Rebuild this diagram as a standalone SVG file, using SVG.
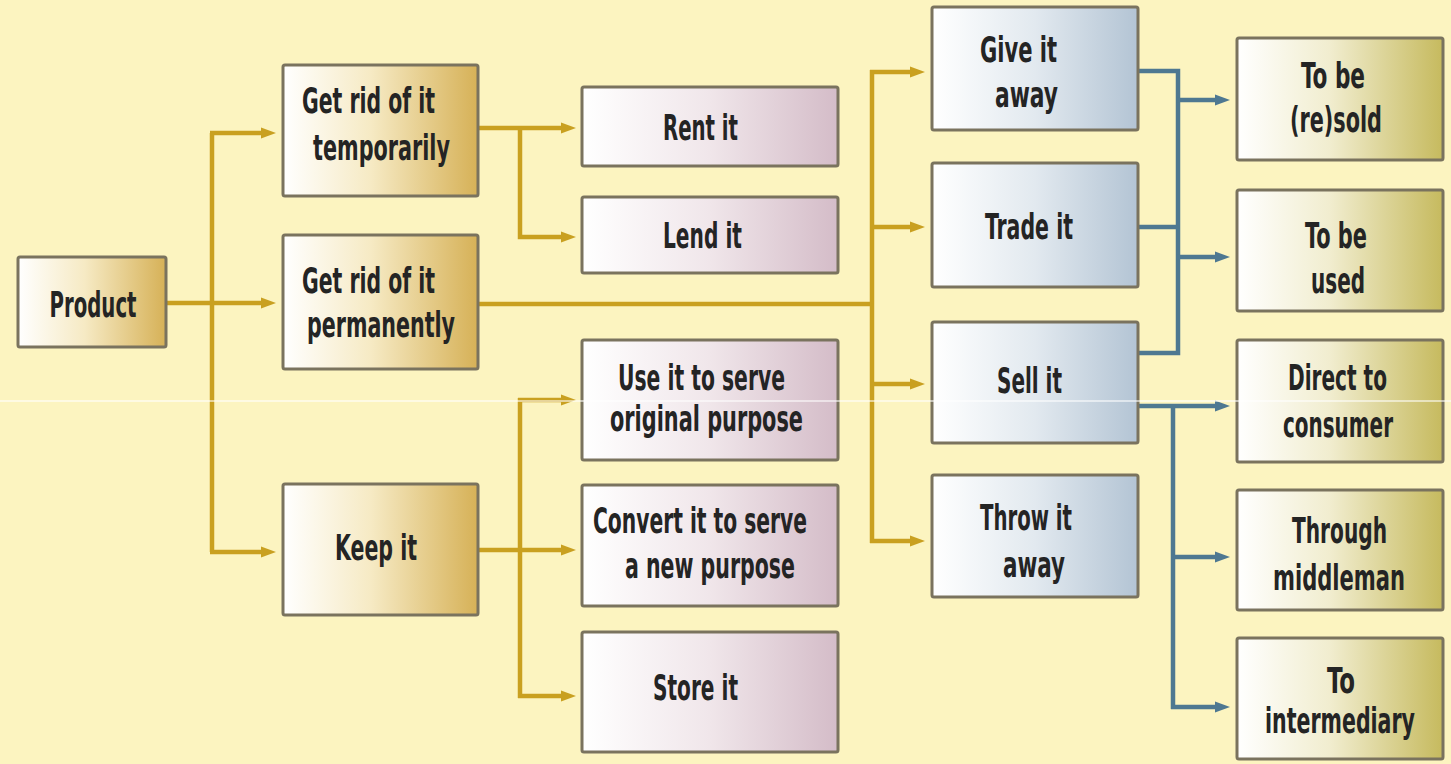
<svg xmlns="http://www.w3.org/2000/svg" width="1451" height="764" viewBox="0 0 1451 764">
<defs>
<linearGradient id="gGold" x1="0" y1="0" x2="1" y2="0">
<stop offset="0" stop-color="#FFFFFF"/><stop offset="0.45" stop-color="#F6EAC4"/><stop offset="1" stop-color="#D6B157"/>
</linearGradient>
<linearGradient id="gPink" x1="0" y1="0" x2="1" y2="0">
<stop offset="0" stop-color="#FFFFFF"/><stop offset="0.5" stop-color="#F0E6EA"/><stop offset="1" stop-color="#D4BCC8"/>
</linearGradient>
<linearGradient id="gBlue" x1="0" y1="0" x2="1" y2="0">
<stop offset="0" stop-color="#FFFFFF"/><stop offset="0.5" stop-color="#E2E9EF"/><stop offset="1" stop-color="#B3C4D4"/>
</linearGradient>
<linearGradient id="gOlive" x1="0" y1="0" x2="1" y2="0">
<stop offset="0" stop-color="#FFFFFF"/><stop offset="0.45" stop-color="#F1EDCF"/><stop offset="1" stop-color="#C6BA5E"/>
</linearGradient>
<marker id="aY" markerUnits="userSpaceOnUse" markerWidth="16" markerHeight="12" refX="7" refY="6" orient="auto">
<path d="M0,0.5 L15,6 L0,11.5 z" fill="#C9A020"/>
</marker>
<marker id="aB" markerUnits="userSpaceOnUse" markerWidth="16" markerHeight="12" refX="7" refY="6" orient="auto">
<path d="M0,0.5 L15,6 L0,11.5 z" fill="#4E7891"/>
</marker>
<style>
.box{stroke:#7A735E;stroke-width:3}
.l2{fill:url(#gGold)}
.l3{fill:url(#gPink)}
.l4{fill:url(#gBlue)}
.l5{fill:url(#gOlive)}
text{font-family:"Liberation Sans Narrow","DejaVu Sans Condensed","Liberation Sans",sans-serif;font-weight:bold;font-size:36px;fill:#242424;text-anchor:middle}
.cy{fill:none;stroke:#C9A020;stroke-width:4.5}
.cb{fill:none;stroke:#4E7891;stroke-width:4.5}
</style>
</defs>
<rect x="0" y="0" width="1451" height="764" fill="#FCF4C0"/>

<g id="connectors">
<line class="cy" x1="212" y1="133" x2="212" y2="552"/>
<line class="cy" x1="166" y1="303" x2="268" y2="303" marker-end="url(#aY)"/>
<line class="cy" x1="210" y1="133" x2="268" y2="133" marker-end="url(#aY)"/>
<line class="cy" x1="210" y1="552" x2="268" y2="552" marker-end="url(#aY)"/>
<line class="cy" x1="478" y1="128" x2="568" y2="128" marker-end="url(#aY)"/>
<polyline class="cy" points="520,126 520,237 568,237" marker-end="url(#aY)"/>
<line class="cy" x1="478" y1="304" x2="874" y2="304"/>
<line class="cy" x1="872" y1="70" x2="872" y2="543"/>
<line class="cy" x1="870" y1="72" x2="917" y2="72" marker-end="url(#aY)"/>
<line class="cy" x1="870" y1="227" x2="917" y2="227" marker-end="url(#aY)"/>
<line class="cy" x1="870" y1="384" x2="917" y2="384" marker-end="url(#aY)"/>
<line class="cy" x1="870" y1="541" x2="917" y2="541" marker-end="url(#aY)"/>
<line class="cy" x1="478" y1="550" x2="568" y2="550" marker-end="url(#aY)"/>
<line class="cy" x1="520" y1="398" x2="520" y2="698"/>
<line class="cy" x1="518" y1="400" x2="568" y2="400" marker-end="url(#aY)"/>
<line class="cy" x1="518" y1="696" x2="568" y2="696" marker-end="url(#aY)"/>
<polyline class="cb" points="1138,71 1178,71 1178,353 1138,353"/>
<line class="cb" x1="1138" y1="227" x2="1178" y2="227"/>
<line class="cb" x1="1176" y1="100" x2="1222" y2="100" marker-end="url(#aB)"/>
<line class="cb" x1="1176" y1="257" x2="1222" y2="257" marker-end="url(#aB)"/>
<line class="cb" x1="1138" y1="406" x2="1222" y2="406" marker-end="url(#aB)"/>
<line class="cb" x1="1173" y1="404" x2="1173" y2="709"/>
<line class="cb" x1="1171" y1="557" x2="1222" y2="557" marker-end="url(#aB)"/>
<line class="cb" x1="1171" y1="707" x2="1222" y2="707" marker-end="url(#aB)"/>
</g>

<g id="product"><rect class="box l2" x="18" y="257" width="148" height="90" rx="2"/>
<text x="93" y="317" textLength="87" lengthAdjust="spacingAndGlyphs">Product</text></g>

<g id="rid-temp"><rect class="box l2" x="283" y="65" width="195" height="131" rx="2"/>
<text x="368.5" y="113" textLength="133" lengthAdjust="spacingAndGlyphs">Get rid of it</text>
<text x="381.5" y="160" textLength="137" lengthAdjust="spacingAndGlyphs">temporarily</text></g>

<g id="rid-perm"><rect class="box l2" x="283" y="235" width="195" height="134" rx="2"/>
<text x="368.5" y="293" textLength="133" lengthAdjust="spacingAndGlyphs">Get rid of it</text>
<text x="381" y="337" textLength="148" lengthAdjust="spacingAndGlyphs">permanently</text></g>

<g id="keep"><rect class="box l2" x="283" y="484" width="195" height="131" rx="2"/>
<text x="376" y="560" textLength="82" lengthAdjust="spacingAndGlyphs">Keep it</text></g>

<g id="rent"><rect class="box l3" x="582" y="87" width="256" height="79" rx="2"/>
<text x="700.5" y="140" textLength="75" lengthAdjust="spacingAndGlyphs">Rent it</text></g>

<g id="lend"><rect class="box l3" x="582" y="197" width="256" height="76" rx="2"/>
<text x="702.5" y="248" textLength="79" lengthAdjust="spacingAndGlyphs">Lend it</text></g>

<g id="use"><rect class="box l3" x="582" y="340" width="256" height="120" rx="2"/>
<text x="701.5" y="390" textLength="167" lengthAdjust="spacingAndGlyphs">Use it to serve</text>
<text x="706.5" y="431" textLength="193" lengthAdjust="spacingAndGlyphs">original purpose</text></g>

<g id="convert"><rect class="box l3" x="582" y="485" width="256" height="121" rx="2"/>
<text x="700" y="533" textLength="214" lengthAdjust="spacingAndGlyphs">Convert it to serve</text>
<text x="710" y="578" textLength="170" lengthAdjust="spacingAndGlyphs">a new purpose</text></g>

<g id="store"><rect class="box l3" x="582" y="632" width="256" height="120" rx="2"/>
<text x="695.5" y="700" textLength="85" lengthAdjust="spacingAndGlyphs">Store it</text></g>

<g id="give"><rect class="box l4" x="932" y="7" width="206" height="123" rx="2"/>
<text x="1018.5" y="62" textLength="77" lengthAdjust="spacingAndGlyphs">Give it</text>
<text x="1026.5" y="107" textLength="63" lengthAdjust="spacingAndGlyphs">away</text></g>

<g id="trade"><rect class="box l4" x="932" y="163" width="206" height="124" rx="2"/>
<text x="1029" y="239" textLength="88" lengthAdjust="spacingAndGlyphs">Trade it</text></g>

<g id="sell"><rect class="box l4" x="932" y="322" width="206" height="121" rx="2"/>
<text x="1029.5" y="393" textLength="65" lengthAdjust="spacingAndGlyphs">Sell it</text></g>

<g id="throw"><rect class="box l4" x="932" y="475" width="206" height="122" rx="2"/>
<text x="1026" y="530" textLength="92" lengthAdjust="spacingAndGlyphs">Throw it</text>
<text x="1034" y="577" textLength="62" lengthAdjust="spacingAndGlyphs">away</text></g>

<g id="resold"><rect class="box l5" x="1237" y="38" width="206" height="122" rx="2"/>
<text x="1333" y="88" textLength="64" lengthAdjust="spacingAndGlyphs">To be</text>
<text x="1336" y="132" textLength="92" lengthAdjust="spacingAndGlyphs">(re)sold</text></g>

<g id="used"><rect class="box l5" x="1237" y="190" width="206" height="121" rx="2"/>
<text x="1336" y="248" textLength="62" lengthAdjust="spacingAndGlyphs">To be</text>
<text x="1338" y="293" textLength="54" lengthAdjust="spacingAndGlyphs">used</text></g>

<g id="direct"><rect class="box l5" x="1237" y="340" width="206" height="122" rx="2"/>
<text x="1337.5" y="390" textLength="99" lengthAdjust="spacingAndGlyphs">Direct to</text>
<text x="1338" y="437" textLength="110" lengthAdjust="spacingAndGlyphs">consumer</text></g>

<g id="middleman"><rect class="box l5" x="1237" y="490" width="206" height="120" rx="2"/>
<text x="1339.5" y="543" textLength="95" lengthAdjust="spacingAndGlyphs">Through</text>
<text x="1339" y="590" textLength="132" lengthAdjust="spacingAndGlyphs">middleman</text></g>

<g id="intermediary"><rect class="box l5" x="1237" y="638" width="206" height="121" rx="2"/>
<text x="1341" y="693" textLength="28" lengthAdjust="spacingAndGlyphs">To</text>
<text x="1340" y="733" textLength="150" lengthAdjust="spacingAndGlyphs">intermediary</text></g>

<line x1="0" y1="401" x2="1451" y2="401" stroke="#FFFFFF" stroke-opacity="0.55" stroke-width="2"/>
</svg>
